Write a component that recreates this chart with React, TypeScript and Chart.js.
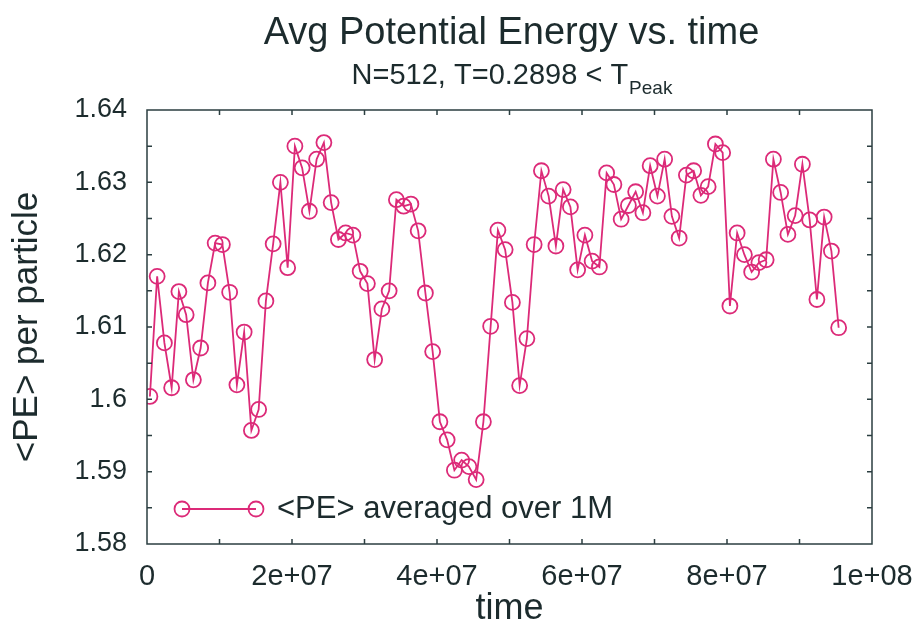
import React, { useEffect, useRef } from "react";
import { Chart, registerables } from "chart.js";

Chart.register(...registerables);

// time in units of 1e6 steps
const timeMillions = [
  0.4, 1.4, 2.4, 3.4, 4.4, 5.4, 6.4, 7.4, 8.4, 9.4,
  10.4, 11.4, 12.4, 13.4, 14.4, 15.4, 16.4, 17.4, 18.4, 19.4,
  20.4, 21.4, 22.4, 23.4, 24.4, 25.4, 26.4, 27.4, 28.4, 29.4,
  30.4, 31.4, 32.4, 33.4, 34.4, 35.4, 36.4, 37.4, 38.4, 39.4,
  40.4, 41.4, 42.4, 43.4, 44.4, 45.4, 46.4, 47.4, 48.4, 49.4,
  50.4, 51.4, 52.4, 53.4, 54.4, 55.4, 56.4, 57.4, 58.4, 59.4,
  60.4, 61.4, 62.4, 63.4, 64.4, 65.4, 66.4, 67.4, 68.4, 69.4,
  70.4, 71.4, 72.4, 73.4, 74.4, 75.4, 76.4, 77.4, 78.4, 79.4,
  80.4, 81.4, 82.4, 83.4, 84.4, 85.4, 86.4, 87.4, 88.4, 89.4,
  90.4, 91.4, 92.4, 93.4, 94.4, 95.4,
];

const avgPE = [
  1.6004, 1.6170, 1.6078, 1.6016, 1.6149, 1.6117, 1.6027, 1.6071, 1.6161, 1.6216,
  1.6214, 1.6148, 1.6020, 1.6093, 1.5957, 1.5986, 1.6136, 1.6215, 1.6300, 1.6182,
  1.6350, 1.6320, 1.6260, 1.6332, 1.6355, 1.6272, 1.6221, 1.6230, 1.6227, 1.6177,
  1.6160, 1.6055, 1.6125, 1.6150, 1.6276, 1.6267, 1.6270, 1.6233, 1.6147, 1.6066,
  1.5969, 1.5944, 1.5902, 1.5916, 1.5907, 1.5889, 1.5969, 1.6101, 1.6234, 1.6207,
  1.6134, 1.6019, 1.6084, 1.6214, 1.6316, 1.6281, 1.6212, 1.6290, 1.6266, 1.6179,
  1.6227, 1.6191, 1.6183, 1.6313, 1.6297, 1.6249, 1.6268, 1.6287, 1.6258, 1.6323,
  1.6281, 1.6332, 1.6253, 1.6223, 1.6310, 1.6316, 1.6282, 1.6294, 1.6353, 1.6341,
  1.6129, 1.6230, 1.6200, 1.6176, 1.6189, 1.6193, 1.6332, 1.6286, 1.6228, 1.6254,
  1.6325, 1.6248, 1.6138, 1.6252, 1.6205, 1.6099,
];

const titleText = "Avg Potential Energy vs. time";
const subtitleMain = "N=512, T=0.2898 < T";
const subtitleSub = "Peak";
const legendLabel = "<PE> averaged over 1M";
const xAxisTitle = "time";
const yAxisTitle = "<PE> per particle";

const X_MIN = 0;
const X_MAX = 1e8;
const X_STEP = 1e7;
const Y_MIN = 1.58;
const Y_MAX = 1.64;
const Y_STEP = 0.005;

const FONT = "'Liberation Sans', Arial, Helvetica, sans-serif";
const TEXT_COLOR = "#1c2b2d";
const FRAME_COLOR = "#2b3e40";
const SERIES_COLOR = "#dc2a78";

const frameTicksPlugin = {
  id: "frameTicks",
  afterDraw(chart: any) {
    const { ctx, chartArea } = chart;
    const { left, right, top, bottom } = chartArea;
    const xs = chart.scales.x;
    const ys = chart.scales.y;
    const len = 5;
    ctx.save();
    ctx.strokeStyle = FRAME_COLOR;
    ctx.lineWidth = 1.5;
    ctx.beginPath();
    xs.ticks.forEach((t: any) => {
      if (t.value <= X_MIN || t.value >= X_MAX) return;
      const px = xs.getPixelForValue(t.value);
      ctx.moveTo(px, bottom);
      ctx.lineTo(px, bottom - len);
      ctx.moveTo(px, top);
      ctx.lineTo(px, top + len);
    });
    ys.ticks.forEach((t: any) => {
      if (t.value <= Y_MIN + 1e-9 || t.value >= Y_MAX - 1e-9) return;
      const py = ys.getPixelForValue(t.value);
      ctx.moveTo(left, py);
      ctx.lineTo(left + len, py);
      ctx.moveTo(right, py);
      ctx.lineTo(right - len, py);
    });
    ctx.stroke();
    ctx.strokeRect(left, top, right - left, bottom - top);
    ctx.restore();
  },
};

const titlesPlugin = {
  id: "titles",
  afterDraw(chart: any) {
    const { ctx, chartArea } = chart;
    const cx = (chartArea.left + chartArea.right) / 2 + 2;
    ctx.save();
    ctx.fillStyle = TEXT_COLOR;
    ctx.textBaseline = "alphabetic";
    ctx.textAlign = "center";
    ctx.font = `38px ${FONT}`;
    ctx.fillText(titleText, cx, 44);

    ctx.textAlign = "left";
    ctx.font = `29px ${FONT}`;
    const w1 = ctx.measureText(subtitleMain).width;
    ctx.font = `19px ${FONT}`;
    const w2 = ctx.measureText(subtitleSub).width;
    const start = cx - (w1 + w2) / 2;
    ctx.font = `29px ${FONT}`;
    ctx.fillText(subtitleMain, start, 84);
    ctx.font = `19px ${FONT}`;
    ctx.fillText(subtitleSub, start + w1 + 1, 94);
    ctx.restore();
  },
};

const legendPlugin = {
  id: "customLegend",
  afterDraw(chart: any) {
    const { ctx, chartArea } = chart;
    const x0 = chartArea.left + 35;
    const x1 = chartArea.left + 109;
    const y = chartArea.bottom - 35;
    ctx.save();
    ctx.strokeStyle = SERIES_COLOR;
    ctx.lineWidth = 1.8;
    ctx.beginPath();
    ctx.moveTo(x0, y);
    ctx.lineTo(x1, y);
    ctx.stroke();
    [x0, x1].forEach((px) => {
      ctx.beginPath();
      ctx.arc(px, y, 7.5, 0, Math.PI * 2);
      ctx.stroke();
    });
    ctx.fillStyle = TEXT_COLOR;
    ctx.font = `31px ${FONT}`;
    ctx.textAlign = "left";
    ctx.textBaseline = "middle";
    ctx.fillText(legendLabel, x1 + 21, y);
    ctx.restore();
  },
};

function formatX(v: number): string {
  const n = Math.round(v / X_STEP);
  if (n % 2 !== 0) return "";
  if (n === 0) return "0";
  const val = n * X_STEP;
  const exp = Math.floor(Math.log10(val) + 1e-9);
  const m = Math.round(val / Math.pow(10, exp));
  return `${m}e+${String(exp).padStart(2, "0")}`;
}

function formatY(v: number): string {
  const k = Math.round(v * 1000);
  if (k % 10 !== 0) return "";
  return String(k / 1000);
}

export default function App() {
  const canvasRef = useRef<HTMLCanvasElement | null>(null);

  useEffect(() => {
    document.body.style.margin = "0";
    const canvas = canvasRef.current;
    if (!canvas) return;
    const points = timeMillions.map((t, i) => ({ x: t * 1e6, y: avgPE[i] }));
    const chart = new Chart(canvas, {
      type: "line",
      data: {
        datasets: [
          {
            label: legendLabel,
            data: points,
            borderColor: SERIES_COLOR,
            borderWidth: 1.8,
            pointRadius: 7.5,
            pointBorderWidth: 1.8,
            pointBorderColor: SERIES_COLOR,
            pointBackgroundColor: "rgba(0,0,0,0)",
            pointStyle: "circle",
            fill: false,
            tension: 0,
          },
        ],
      },
      options: {
        animation: false,
        responsive: false,
        devicePixelRatio: 1,
        layout: { padding: { top: 110, right: 48, left: 0, bottom: 0 } },
        plugins: {
          legend: { display: false },
          title: { display: false },
          tooltip: { enabled: false },
        },
        scales: {
          x: {
            type: "linear",
            min: X_MIN,
            max: X_MAX,
            afterFit(scale: any) {
              scale.height = 85;
              scale.paddingLeft = 0;
              scale.paddingRight = 0;
            },
            grid: { display: false, drawTicks: false },
            border: { display: false },
            ticks: {
              stepSize: X_STEP,
              autoSkip: false,
              maxRotation: 0,
              padding: 16,
              color: TEXT_COLOR,
              font: { family: FONT, size: 29 },
              callback: (v: any) => formatX(Number(v)),
            },
            title: {
              display: true,
              text: xAxisTitle,
              color: TEXT_COLOR,
              font: { family: FONT, size: 36 },
              padding: { top: 0, bottom: -2 },
            },
          },
          y: {
            type: "linear",
            min: Y_MIN,
            max: Y_MAX,
            afterFit(scale: any) {
              scale.width = 147;
              scale.paddingTop = 0;
              scale.paddingBottom = 0;
            },
            grid: { display: false, drawTicks: false },
            border: { display: false },
            ticks: {
              stepSize: Y_STEP,
              autoSkip: false,
              padding: 20,
              color: TEXT_COLOR,
              font: { family: FONT, size: 27 },
              callback: (v: any) => formatY(Number(v)),
            },
            title: {
              display: true,
              text: yAxisTitle,
              color: TEXT_COLOR,
              font: { family: FONT, size: 35 },
              padding: { top: 6, bottom: 0 },
            },
          },
        },
      },
      plugins: [frameTicksPlugin, titlesPlugin, legendPlugin],
    } as any);
    return () => chart.destroy();
  }, []);

  return (
    <div style={{ width: 920, height: 629, position: "relative", background: "#ffffff" }}>
      <canvas ref={canvasRef} width={920} height={629} style={{ display: "block" }} />
    </div>
  );
}
